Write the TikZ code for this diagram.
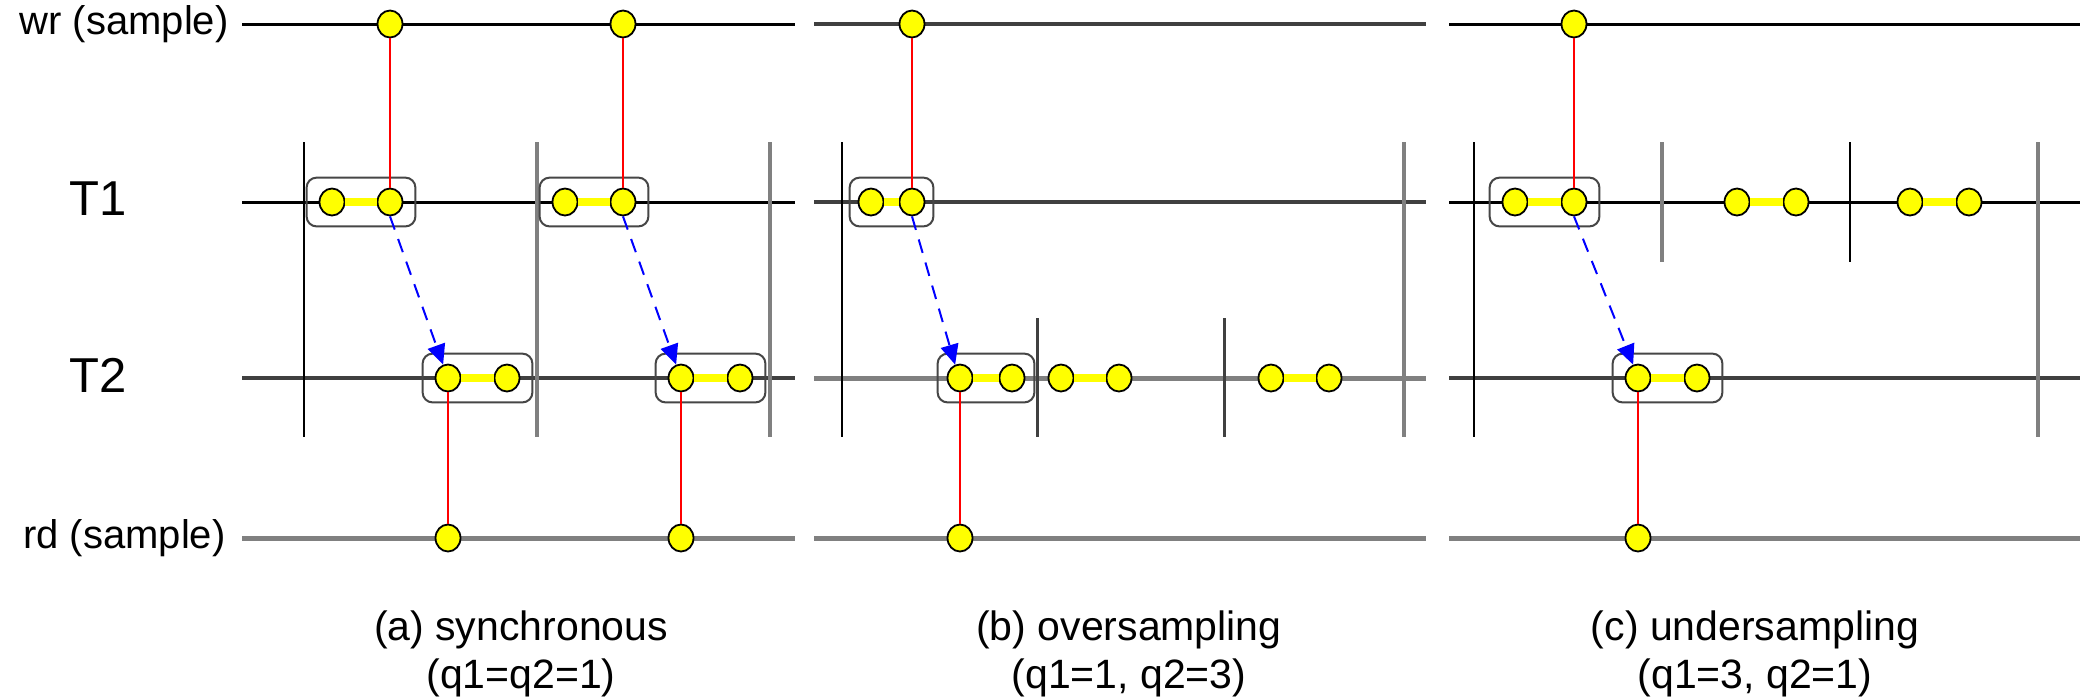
\documentclass[tikz,border=0pt]{standalone}
\usepackage{fontspec}
\setmainfont{Liberation Sans}
\usepackage{tikz}
\usetikzlibrary{arrows.meta, positioning, fit, shapes.geometric}
\definecolor{dotyellow}{RGB}{255,255,0}
\definecolor{darkline}{RGB}{64,64,64}
\definecolor{midline}{RGB}{128,128,128}
\definecolor{boxgray}{RGB}{70,70,70}

\begin{document}
\begin{tikzpicture}[x=0.5pt, y=-0.5pt,
  smp/.style={ellipse, draw=black, line width=0.9pt, fill=dotyellow, minimum width=12.5pt, minimum height=13.5pt, inner sep=0pt},
  pairbar/.style={dotyellow, line width=4pt},
  grp/.style={draw=boxgray, rounded corners=5pt, line width=1pt, inner xsep=6pt, inner ysep=5pt},
  blk/.style={black, line width=1.5pt},
  dgr/.style={darkline, line width=2pt},
  mgr/.style={midline, line width=2.5pt},
  slotbar/.style={black, line width=1pt},
  slotgbar/.style={midline, line width=2pt},
  rdwr/.style={red, line width=1pt},
  xfer/.style={blue, line width=1pt, dash pattern=on 7pt off 5pt, -{Triangle[length=10pt, width=9pt]}},
  lbl/.style={anchor=east, inner sep=0pt, font=\fontsize{20}{22}\selectfont},
  tlbl/.style={anchor=west, inner sep=0pt, font=\fontsize{24.5}{26}\selectfont},
  capt/.style={align=center, inner sep=0pt, font=\fontsize{20.5}{24}\selectfont}]
  \fill[white] (0,0) rectangle (2089,698);
  \useasboundingbox (0,0) rectangle (2089,698);
  % row labels
  \node[lbl] (wrlbl) at (229,24) {wr (sample)};
  \node[tlbl] (tonelbl) at (69,199) {T1};
  \node[tlbl] (ttwolbl) at (69,375) {T2};
  \node[lbl] (rdlbl) at (226,538) {rd (sample)};

  % (a) synchronous
  \draw[blk] (242,24) -- (795,24);
  \draw[blk] (242,202) -- (795,202);
  \draw[dgr] (242,378) -- (795,378);
  \draw[mgr] (242,538) -- (795,538);
  \draw[slotbar] (304,142) -- (304,437);
  \draw[slotgbar] (537,142) -- (537,437);
  \draw[slotgbar] (770,142) -- (770,437);
  \node[smp] (wa1) at (390,24) {};
  \node[smp] (wa2) at (623,24) {};
  \node[smp] (t1a1) at (332,202) {};
  \node[smp] (t1a2) at (390,202) {};
  \node[smp] (t1a3) at (565,202) {};
  \node[smp] (t1a4) at (623,202) {};
  \node[smp] (t2a1) at (448,378) {};
  \node[smp] (t2a2) at (507,378) {};
  \node[smp] (t2a3) at (681,378) {};
  \node[smp] (t2a4) at (740,378) {};
  \node[smp] (rda1) at (448,538) {};
  \node[smp] (rda2) at (681,538) {};
  \draw[pairbar] (t1a1) -- (t1a2);
  \draw[pairbar] (t1a3) -- (t1a4);
  \draw[pairbar] (t2a1) -- (t2a2);
  \draw[pairbar] (t2a3) -- (t2a4);
  \node[grp, fit=(t1a1)(t1a2)] (ga1) {};
  \node[grp, fit=(t1a3)(t1a4)] (ga2) {};
  \node[grp, fit=(t2a1)(t2a2)] (ga3) {};
  \node[grp, fit=(t2a3)(t2a4)] (ga4) {};
  \draw[rdwr] (wa1) -- (t1a2);
  \draw[rdwr] (wa2) -- (t1a4);
  \draw[rdwr] (t2a1) -- (rda1);
  \draw[rdwr] (t2a3) -- (rda2);
  \draw[xfer] (t1a2.south) -- (t2a1.110);
  \draw[xfer] (t1a4.south) -- (t2a3.110);
  \node[capt] (capa) at (521,654) {(a) synchronous\\(q1=q2=1)};

  % (b) oversampling
  \draw[dgr] (814,24) -- (1426,24);
  \draw[dgr] (814,202) -- (1426,202);
  \draw[mgr] (814,378) -- (1426,378);
  \draw[mgr] (814,538) -- (1426,538);
  \draw[slotbar] (842,142) -- (842,437);
  \draw[darkline, line width=1.5pt] (1037,318) -- (1037,437);
  \draw[darkline, line width=1.5pt] (1224,318) -- (1224,437);
  \draw[slotgbar] (1404,142) -- (1404,437);
  \node[smp] (wb1) at (912,24) {};
  \node[smp] (t1b1) at (871,202) {};
  \node[smp] (t1b2) at (912,202) {};
  \node[smp] (t2b1) at (960,378) {};
  \node[smp] (t2b2) at (1012,378) {};
  \node[smp] (t2b3) at (1061,378) {};
  \node[smp] (t2b4) at (1119,378) {};
  \node[smp] (t2b5) at (1271,378) {};
  \node[smp] (t2b6) at (1329,378) {};
  \node[smp] (rdb1) at (960,538) {};
  \draw[pairbar] (t1b1) -- (t1b2);
  \draw[pairbar] (t2b1) -- (t2b2);
  \draw[pairbar] (t2b3) -- (t2b4);
  \draw[pairbar] (t2b5) -- (t2b6);
  \node[grp, inner xsep=4pt, fit=(t1b1)(t1b2)] (gb1) {};
  \node[grp, inner xsep=4.5pt, fit=(t2b1)(t2b2)] (gb2) {};
  \draw[rdwr] (wb1) -- (t1b2);
  \draw[rdwr] (t2b1) -- (rdb1);
  \draw[xfer] (t1b2.south) -- (t2b1.110);
  \node[capt] (capb) at (1129,654) {(b) oversampling\\(q1=1, q2=3)};

  % (c) undersampling
  \draw[blk] (1449,24) -- (2080,24);
  \draw[blk] (1449,202) -- (2080,202);
  \draw[dgr] (1449,378) -- (2080,378);
  \draw[mgr] (1449,538) -- (2080,538);
  \draw[slotbar] (1474,142) -- (1474,437);
  \draw[slotgbar] (1662,142) -- (1662,262);
  \draw[slotbar] (1850,142) -- (1850,262);
  \draw[slotgbar] (2038,142) -- (2038,437);
  \node[smp] (wc1) at (1574,24) {};
  \node[smp] (t1c1) at (1515,202) {};
  \node[smp] (t1c2) at (1574,202) {};
  \node[smp] (t1c3) at (1737,202) {};
  \node[smp] (t1c4) at (1796,202) {};
  \node[smp] (t1c5) at (1910,202) {};
  \node[smp] (t1c6) at (1969,202) {};
  \node[smp] (t2c1) at (1638,378) {};
  \node[smp] (t2c2) at (1697,378) {};
  \node[smp] (rdc1) at (1638,538) {};
  \draw[pairbar] (t1c1) -- (t1c2);
  \draw[pairbar] (t1c3) -- (t1c4);
  \draw[pairbar] (t1c5) -- (t1c6);
  \draw[pairbar] (t2c1) -- (t2c2);
  \node[grp, fit=(t1c1)(t1c2)] (gc1) {};
  \node[grp, fit=(t2c1)(t2c2)] (gc2) {};
  \draw[rdwr] (wc1) -- (t1c2);
  \draw[rdwr] (t2c1) -- (rdc1);
  \draw[xfer] (t1c2.south) -- (t2c1.110);
  \node[capt] (capc) at (1755,654) {(c) undersampling\\(q1=3, q2=1)};
\end{tikzpicture}
\end{document}
